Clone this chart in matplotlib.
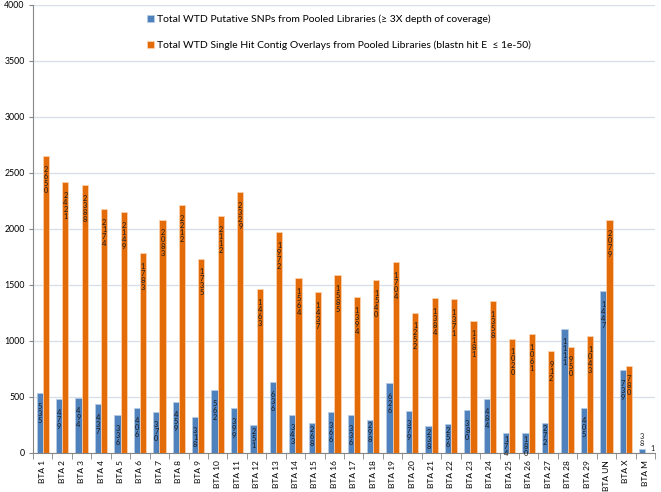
import matplotlib
matplotlib.use("Agg")
import matplotlib.pyplot as plt
import numpy as np

categories = ["BTA 1", "BTA 2", "BTA 3", "BTA 4", "BTA 5", "BTA 6", "BTA 7", "BTA 8", "BTA 9",
              "BTA 10", "BTA 11", "BTA 12", "BTA 13", "BTA 14", "BTA 15", "BTA 16", "BTA 17",
              "BTA 18", "BTA 19", "BTA 20", "BTA 21", "BTA 22", "BTA 23", "BTA 24", "BTA 25",
              "BTA 26", "BTA 27", "BTA 28", "BTA 29", "BTA UN", "BTA X", "BTA M"]
snps = [535, 479, 494, 437, 336, 406, 370, 459, 318, 562, 399, 251, 636, 343, 268, 366,
        336, 298, 626, 379, 238, 256, 380, 484, 174, 180, 272, 1111, 405, 1447, 739, 38]
contigs = [2650, 2421, 2388, 2174, 2149, 1783, 2083, 2212, 1735, 2112, 2329, 1463, 1972,
           1564, 1437, 1585, 1394, 1540, 1704, 1252, 1384, 1371, 1181, 1358, 1020, 1061,
           912, 950, 1043, 2079, 780, 1]
series_names = ["Total WTD Putative SNPs from Pooled Libraries (\u2265 3X depth of coverage)",
                "Total WTD Single Hit Contig Overlays from Pooled Libraries (blastn hit E  \u2264 1e-50)"]
yticks = [0, 500, 1000, 1500, 2000, 2500, 3000, 3500, 4000]

plt.rcParams['font.family'] = ['Lato', 'DejaVu Sans']

fig = plt.figure(figsize=(6.61, 4.92), dpi=100)
ax = fig.add_axes([0.05, 0.0793, 0.941, 0.9107])

blue = "#4F81BD"
orange = "#E36C09"
x = np.arange(len(categories))
w = 0.32
b1 = ax.bar(x - w / 2, snps, w, color=blue, edgecolor="#B9CDE5", linewidth=0.5, label=series_names[0], zorder=3)
b2 = ax.bar(x + w / 2, contigs, w, color=orange, edgecolor="#FCD5B5", linewidth=0.5, label=series_names[1], zorder=3)

LFS = 5.3
LSP = 1.0

def vlabel(xpos, val):
    s = "\n".join(str(val))
    if val < 100:
        ax.annotate(s, (xpos, val), xytext=(0, 1), textcoords="offset points",
                    ha="center", va="bottom", fontsize=LFS, linespacing=LSP, color="#1a1a1a", zorder=4)
    else:
        off = -7 if val > 300 else -2
        ax.annotate(s, (xpos, val), xytext=(0, off), textcoords="offset points",
                    ha="center", va="top", fontsize=LFS, linespacing=LSP, color="#1a1a1a", zorder=4)

for xi, v in zip(x - w / 2, snps):
    vlabel(xi, v)
for xi, v in zip(x + w / 2, contigs):
    if v < 100:
        ax.annotate(str(v), (xi, v), xytext=(1.5, 0.5), textcoords="offset points",
                    ha="left", va="bottom", fontsize=LFS, color="#1a1a1a", zorder=4)
    else:
        vlabel(xi, v)

ax.set_xlim(-0.5, len(categories) - 0.5)
ax.set_ylim(0, 4000)
ax.set_yticks(yticks)
ax.set_yticklabels([str(t) for t in yticks], fontsize=6.3)
ax.yaxis.grid(True, color="#D6DEE8", linewidth=0.9, zorder=0)
ax.set_axisbelow(True)

ax.set_xticks(x)
ax.set_xticklabels(categories, rotation=90, fontsize=6)
ax.tick_params(axis="x", which="major", length=0, pad=5)
ax.set_xticks(np.arange(-0.5, len(categories), 1), minor=True)
ax.tick_params(axis="x", which="minor", length=4, color="#868686", direction="out")
ax.tick_params(axis="y", length=3, color="#868686", pad=3)

for s in ["top", "right"]:
    ax.spines[s].set_visible(False)
for s in ["left", "bottom"]:
    ax.spines[s].set_color("#868686")
    ax.spines[s].set_linewidth(0.8)

fig.legend(handles=[b1, b2], labels=series_names, loc="upper left",
           bbox_to_anchor=(0.208, 0.99), frameon=False, fontsize=7.5,
           handlelength=0.7, handleheight=0.7, handletextpad=0.3, labelspacing=1.6)

fig.savefig("out.png", dpi=100)
